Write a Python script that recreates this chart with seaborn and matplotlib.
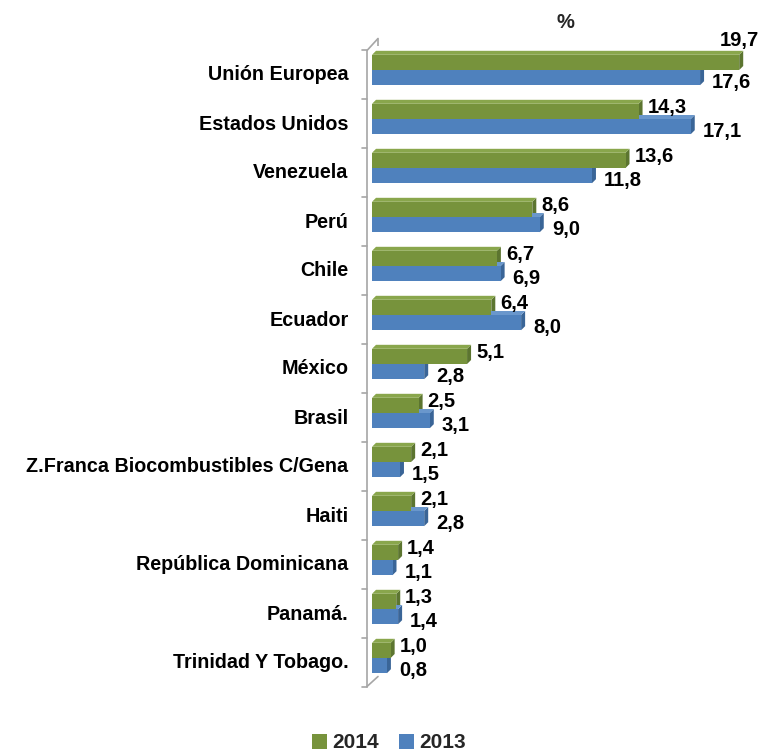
import numpy as np
import pandas as pd
import matplotlib
matplotlib.use("Agg")
import matplotlib.pyplot as plt
import seaborn as sns
from matplotlib.patches import Polygon, Patch
from matplotlib.lines import Line2D
from matplotlib.transforms import IdentityTransform, ScaledTranslation

categories = ["Unión Europea", "Estados Unidos", "Venezuela", "Perú", "Chile", "Ecuador",
              "México", "Brasil", "Z.Franca Biocombustibles C/Gena", "Haiti",
              "República Dominicana", "Panamá.", "Trinidad Y Tobago."]
values_2014 = [19.7, 14.3, 13.6, 8.6, 6.7, 6.4, 5.1, 2.5, 2.1, 2.1, 1.4, 1.3, 1.0]
values_2013 = [17.6, 17.1, 11.8, 9.0, 6.9, 8.0, 2.8, 3.1, 1.5, 2.8, 1.1, 1.4, 0.8]
series = ["2014", "2013"]
colors = {"2014": "#77933C", "2013": "#4F81BD"}
side_colors = {"2014": "#5C7530", "2013": "#3A6597"}
top_colors = {"2014": "#89A64C", "2013": "#6A97CC"}

df = pd.DataFrame({
    "pais": categories * 2,
    "valor": values_2014 + values_2013,
    "anio": ["2014"] * len(categories) + ["2013"] * len(categories),
})

sns.set_theme(style="white")
plt.rcParams["font.family"] = ["Liberation Sans", "DejaVu Sans"]
plt.rcParams["font.weight"] = "bold"

FS = 14.5
W, H = 761, 753
fig = plt.figure(figsize=(W / 100, H / 100), dpi=100)
ax_left, ax_right = 372, 755
ax_top, ax_bot = 45.5, 682.5
ax = fig.add_axes([ax_left / W, 1 - ax_bot / H, (ax_right - ax_left) / W, (ax_bot - ax_top) / H])

sns.barplot(data=df, y="pais", x="valor", hue="anio", hue_order=series, order=categories,
            palette=colors, orient="h", width=0.62, legend=False, ax=ax,
            saturation=1, edgecolor="none", zorder=3)
ax.set_xlim(0, (ax_right - ax_left) / 18.64)
ax.set_ylim(len(categories) - 0.5, -0.5)
ax.set_xlabel("")
ax.set_ylabel("")
ax.set_xticks([])
for s in ax.spines.values():
    s.set_visible(False)
ax.tick_params(axis="y", length=0, pad=17, labelsize=14.2)
shift = ScaledTranslation(0, -3 / 100, fig.dpi_scale_trans)
for t in ax.get_yticklabels():
    t.set_fontweight("bold")
    t.set_color("black")
    t.set_transform(t.get_transform() + shift)

fig.canvas.draw()
dx, dy = 4, 4
bars = [p for p in ax.patches if p.get_width() > 0]
n = len(categories)
for i, p in enumerate(bars):
    key = "2014" if i < n else "2013"
    x0, y0 = p.get_x(), p.get_y()
    x1, y1 = x0 + p.get_width(), y0 + p.get_height()
    (px0, py0) = ax.transData.transform((x0, y0))
    (px1, py1) = ax.transData.transform((x1, y1))
    ylo, yhi = min(py0, py1), max(py0, py1)
    side = Polygon([(px1, ylo), (px1, yhi), (px1 + dx, yhi + dy), (px1 + dx, ylo + dy)],
                   closed=True, transform=IdentityTransform(), facecolor=side_colors[key],
                   edgecolor="none", zorder=2, clip_on=False)
    top = Polygon([(px0, yhi), (px1, yhi), (px1 + dx, yhi + dy), (px0 + dx, yhi + dy)],
                  closed=True, transform=IdentityTransform(), facecolor=top_colors[key],
                  edgecolor="none", zorder=2, clip_on=False)
    ax.add_artist(side)
    ax.add_artist(top)
    val = p.get_width()
    txt = f"{val:.1f}".replace(".", ",")
    yc = (ylo + yhi) / 2
    if key == "2014":
        if px1 + 50 > W:
            tx, ty, ha = px1 + 20, yhi + 14, "right"
        else:
            tx, ty, ha = px1 + dx + 5, yc + 4, "left"
    else:
        tx, ty, ha = px1 + dx + 8, yc - 5, "left"
    fig.text(tx / W, ty / H, txt, ha=ha, va="center", fontsize=FS, fontweight="bold", color="black")

# 3D-style wall on the left
front_x = ax_left - 5
back_x = ax_left + 6
yt_front, yb_front = H - (ax_top + 5), H - (ax_bot + 4)
yt_back, yb_back = H - (ax_top - 7), H - (ax_bot - 6)
wall_col = "#A6A6A6"
def fl(xs, ys, **kw):
    fig.add_artist(Line2D([x / W for x in xs], [y / H for y in ys], color=wall_col, lw=1.2, **kw))
fl([front_x, front_x], [yt_front, yb_front])
fl([back_x, back_x], [yt_back, yb_back], zorder=-1)
fl([front_x, back_x], [yt_front, yt_back])
fl([front_x, back_x], [yb_front, yb_back])
step = (ax_bot - ax_top) / n
for k in range(n + 1):
    yy = H - (ax_top + 4 + step * k)
    if k == n:
        yy = yb_front
    fl([front_x - 5, front_x], [yy, yy])

fig.text(565 / W, 1 - 22 / H, "%", ha="center", va="center", fontsize=FS, fontweight="bold")

handles = [Patch(facecolor=colors[s], edgecolor="none", label=s) for s in series]
leg = fig.legend(handles=handles, loc="center", bbox_to_anchor=(389 / W, 10 / H), ncol=2,
                 frameon=False, fontsize=15, handlelength=0.7, handleheight=0.7,
                 handletextpad=0.25, columnspacing=1.0)
for t in leg.get_texts():
    t.set_fontweight("bold")

fig.savefig("out.png", dpi=100)
